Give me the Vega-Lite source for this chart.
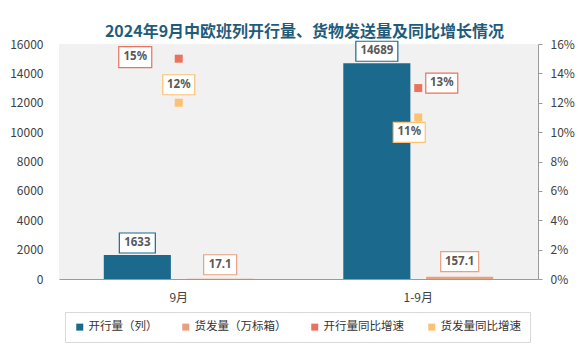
{
  "$schema": "https://vega.github.io/schema/vega-lite/v6.json",
  "width": 479,
  "height": 235,
  "autosize": {"type": "none"},
  "padding": {"left": 59, "top": 44, "right": 46, "bottom": 81},
  "background": "white",
  "config": {
    "font": "Noto Sans CJK SC",
    "view": {"stroke": null, "fill": "#f1f1f1"},
    "axis": {"labelFont": "Noto Sans CJK SC", "labelFontSize": 12, "labelColor": "#404040", "grid": false, "title": null}
  },
  "title": {
    "text": "2024年9月中欧班列开行量、货物发送量及同比增长情况",
    "font": "Noto Sans CJK SC",
    "fontSize": 16,
    "fontWeight": "bold",
    "color": "#1f5c7c",
    "anchor": "middle",
    "dx": 6,
    "offset": -2
  },
  "data": {
    "values": [
      {"cat": "9月", "series": "开行量（列）", "value": 1633},
      {"cat": "9月", "series": "货发量（万标箱）", "value": 17.1},
      {"cat": "1-9月", "series": "开行量（列）", "value": 14689},
      {"cat": "1-9月", "series": "货发量（万标箱）", "value": 157.1},
      {"cat": "9月", "series": "开行量同比增速", "pct": 0.15},
      {"cat": "9月", "series": "货发量同比增速", "pct": 0.12},
      {"cat": "1-9月", "series": "开行量同比增速", "pct": 0.13},
      {"cat": "1-9月", "series": "货发量同比增速", "pct": 0.11}
    ]
  },
  "encoding": {
    "x": {
      "field": "cat",
      "type": "nominal",
      "scale": {"domain": ["9月", "1-9月"], "paddingInner": 0.374, "paddingOuter": 0.187},
      "axis": {"labelAngle": 0, "ticks": false, "domainColor": "#9a9a9a", "domainWidth": 1.2, "labelPadding": 13}
    }
  },
  "layer": [
    {
      "transform": [{"filter": "isValid(datum.value)"}],
      "encoding": {
        "y": {
          "field": "value",
          "type": "quantitative",
          "scale": {"domain": [0, 16000], "nice": false},
          "axis": {"values": [0, 2000, 4000, 6000, 8000, 10000, 12000, 14000, 16000], "domain": false, "ticks": false, "labelPadding": 16, "format": "d"}
        },
        "xOffset": {"field": "series", "type": "nominal", "scale": {"domain": ["开行量（列）", "货发量（万标箱）"], "paddingInner": 0.19, "paddingOuter": 0}}
      },
      "layer": [
        {
          "mark": {"type": "bar"},
          "encoding": {
            "color": {
              "field": "series",
              "type": "nominal",
              "scale": {"domain": ["开行量（列）", "货发量（万标箱）", "开行量同比增速", "货发量同比增速"], "range": ["#1b6a8d", "#e9a07e", "#e9735f", "#fcc173"]},
              "legend": {
                "orient": "none", "legendX": 6, "legendY": 268, "direction": "horizontal", "columns": 4,
                "title": null, "symbolType": "square", "symbolSize": 49, "symbolStrokeWidth": 0,
                "labelFontSize": 11.5, "labelColor": "#333333", "labelFont": "Noto Sans CJK SC", "labelOffset": 3,
                "columnPadding": 22, "padding": 9, "strokeColor": "#d9d9d9", "fillColor": "white"
              }
            }
          }
        },
        {
          "transform": [{"filter": {"field": "value", "equal": 1633}}],
          "mark": {"type": "point", "shape": "M-1,-0.556H1V0.556H-1Z", "size": 1296, "filled": true, "color": "white", "stroke": "#1b6a8d", "strokeWidth": 1.2, "opacity": 1, "yOffset": -12}
        },
        {
          "transform": [{"filter": {"field": "value", "equal": 14689}}],
          "mark": {"type": "point", "shape": "M-1,-0.476H1V0.476H-1Z", "size": 1764, "filled": true, "color": "white", "stroke": "#1b6a8d", "strokeWidth": 1.2, "opacity": 1, "yOffset": -12}
        },
        {
          "transform": [{"filter": {"field": "value", "equal": 17.1}}],
          "mark": {"type": "point", "shape": "M-1,-0.606H1V0.606H-1Z", "size": 1089, "filled": true, "color": "white", "stroke": "#e9a07e", "strokeWidth": 1.2, "opacity": 1, "yOffset": -14}
        },
        {
          "transform": [{"filter": {"field": "value", "equal": 157.1}}],
          "mark": {"type": "point", "shape": "M-1,-0.526H1V0.526H-1Z", "size": 1444, "filled": true, "color": "white", "stroke": "#e9a07e", "strokeWidth": 1.2, "opacity": 1, "yOffset": -15}
        },
        {
          "transform": [{"filter": "datum.value > 1000"}],
          "mark": {"type": "text", "dy": -12, "font": "Noto Sans", "fontWeight": "bold", "fontSize": 11.5, "color": "#595959", "baseline": "middle", "align": "center"},
          "encoding": {"text": {"field": "value", "type": "quantitative", "format": "d"}}
        },
        {
          "transform": [{"filter": "datum.value < 100"}],
          "mark": {"type": "text", "dy": -14, "font": "Noto Sans", "fontWeight": "bold", "fontSize": 11.5, "color": "#595959", "baseline": "middle", "align": "center"},
          "encoding": {"text": {"field": "value", "type": "quantitative", "format": ".1f"}}
        },
        {
          "transform": [{"filter": "datum.value < 1000 && datum.value > 100"}],
          "mark": {"type": "text", "dy": -15, "font": "Noto Sans", "fontWeight": "bold", "fontSize": 11.5, "color": "#595959", "baseline": "middle", "align": "center"},
          "encoding": {"text": {"field": "value", "type": "quantitative", "format": ".1f"}}
        }
      ]
    },
    {
      "transform": [{"filter": "isValid(datum.pct)"}],
      "encoding": {
        "y": {
          "field": "pct",
          "type": "quantitative",
          "scale": {"domain": [0, 0.16], "nice": false},
          "axis": {"orient": "right", "values": [0, 0.02, 0.04, 0.06, 0.08, 0.1, 0.12, 0.14, 0.16], "format": ".0%", "domainColor": "#9a9a9a", "tickColor": "#9a9a9a", "tickSize": 4, "labelPadding": 8}
        }
      },
      "layer": [
        {
          "mark": {"type": "point", "shape": "square", "filled": true, "size": 64, "opacity": 1},
          "encoding": {
            "color": {
              "field": "series",
              "type": "nominal",
              "scale": {"domain": ["开行量（列）", "货发量（万标箱）", "开行量同比增速", "货发量同比增速"], "range": ["#1b6a8d", "#e9a07e", "#e9735f", "#fcc173"]}
            }
          }
        },
        {
          "transform": [{"filter": "datum.cat == '9月' && datum.series == '开行量同比增速'"}],
          "layer": [
            {"mark": {"type": "point", "shape": "M-1,-0.636H1V0.636H-1Z", "size": 1089, "filled": true, "color": "white", "stroke": "#e9735f", "strokeWidth": 1.2, "opacity": 1, "xOffset": -43.5, "yOffset": -1.5}},
            {"mark": {"type": "text", "dx": -43.5, "dy": -1.5, "font": "Noto Sans", "fontWeight": "bold", "fontSize": 11.5, "color": "#595959", "baseline": "middle", "align": "center"}, "encoding": {"text": {"field": "pct", "type": "quantitative", "format": ".0%"}}}
          ]
        },
        {
          "transform": [{"filter": "datum.cat == '9月' && datum.series == '货发量同比增速'"}],
          "layer": [
            {"mark": {"type": "point", "shape": "M-1,-0.625H1V0.625H-1Z", "size": 1024, "filled": true, "color": "white", "stroke": "#fcc173", "strokeWidth": 1.2, "opacity": 1, "yOffset": -18}},
            {"mark": {"type": "text", "dy": -18, "font": "Noto Sans", "fontWeight": "bold", "fontSize": 11.5, "color": "#595959", "baseline": "middle", "align": "center"}, "encoding": {"text": {"field": "pct", "type": "quantitative", "format": ".0%"}}}
          ]
        },
        {
          "transform": [{"filter": "datum.cat == '1-9月' && datum.series == '开行量同比增速'"}],
          "layer": [
            {"mark": {"type": "point", "shape": "M-1,-0.625H1V0.625H-1Z", "size": 1024, "filled": true, "color": "white", "stroke": "#e9735f", "strokeWidth": 1.2, "opacity": 1, "xOffset": 23.5, "yOffset": -5}},
            {"mark": {"type": "text", "dx": 23.5, "dy": -5, "font": "Noto Sans", "fontWeight": "bold", "fontSize": 11.5, "color": "#595959", "baseline": "middle", "align": "center"}, "encoding": {"text": {"field": "pct", "type": "quantitative", "format": ".0%"}}}
          ]
        },
        {
          "transform": [{"filter": "datum.cat == '1-9月' && datum.series == '货发量同比增速'"}],
          "layer": [
            {"mark": {"type": "point", "shape": "M-1,-0.625H1V0.625H-1Z", "size": 1024, "filled": true, "color": "white", "stroke": "#fcc173", "strokeWidth": 1.2, "opacity": 1, "xOffset": -9, "yOffset": 15}},
            {"mark": {"type": "text", "dx": -9, "dy": 15, "font": "Noto Sans", "fontWeight": "bold", "fontSize": 11.5, "color": "#595959", "baseline": "middle", "align": "center"}, "encoding": {"text": {"field": "pct", "type": "quantitative", "format": ".0%"}}}
          ]
        }
      ]
    }
  ],
  "resolve": {"scale": {"y": "independent"}}
}
